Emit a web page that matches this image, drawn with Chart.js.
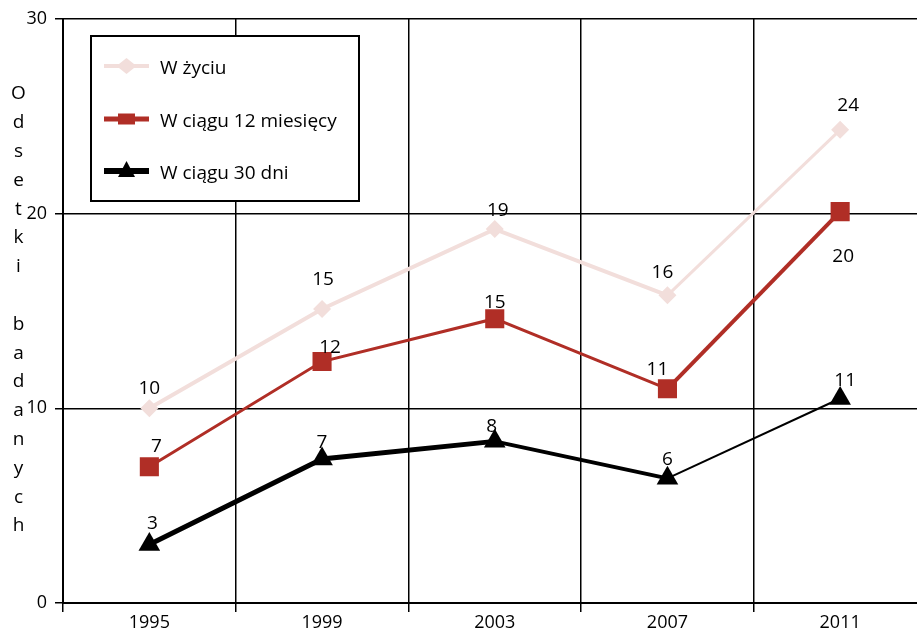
<!DOCTYPE html>
<html>
<head>
<meta charset="utf-8">
<script src="https://cdn.jsdelivr.net/npm/chart.js@4/dist/chart.umd.min.js"></script>
<style>
html,body{margin:0;padding:0;background:#fff;overflow:hidden;}
#wrap{width:917px;height:630px;position:relative;overflow:hidden;}
#c{position:absolute;left:0;top:0;}
</style>
</head>
<body>
<div id="wrap"><canvas id="c" width="940" height="630"></canvas></div>
<script>
// ---- data ----
const years = ['1995', '1999', '2003', '2007', '2011'];
const seriesNames = ['W życiu', 'W ciągu 12 miesięcy', 'W ciągu 30 dni'];
const lifetime = [10.0, 15.1, 19.2, 15.8, 24.3];
const last12Months = [7.0, 12.4, 14.6, 11.0, 20.1];
const last30Days = [3.0, 7.4, 8.3, 6.4, 10.5];
const yTicks = [0, 10, 20, 30];
const yTitle = 'Odsetki badanych';

// ---- styles ----
const FONT = '"Open Sans", "DejaVu Sans", sans-serif';
const colors = ['#f2dedb', '#b02e26', '#000000'];
const segWidths = [[4, 4, 4, 3], [3, 3, 3, 4], [5, 5, 4, 2]];
const labelOffsets = [
  [[0, -20], [1, -29], [3, -19], [-5, -23], [8, -24]],
  [[7, -20], [8, -14], [0, -16], [-10, -19], [3, 45]],
  [[3, -21], [0, -16], [-3, -15], [0, -19], [5, -18]]
];

const datasets = [lifetime, last12Months, last30Days].map((vals, i) => ({
  label: seriesNames[i],
  data: vals,
  borderColor: colors[i],
  backgroundColor: colors[i],
  pointStyle: ['rectRot', 'rect', 'triangle'][i],
  pointRadius: [9, 13.5, 12.5][i],
  pointBorderWidth: 0,
  pointHoverRadius: [9, 13.5, 12.5][i],
  borderWidth: segWidths[i][0],
  segment: { borderWidth: ctx => segWidths[i][ctx.p0DataIndex] },
  tension: 0
}));

const yTitlePlugin = {
  id: 'yTitle',
  afterDraw(chart) {
    const ctx = chart.ctx;
    ctx.save();
    ctx.fillStyle = '#000';
    ctx.font = '19px ' + FONT;
    ctx.textAlign = 'center';
    ctx.textBaseline = 'middle';
    const chars = Array.from(yTitle);
    chars.forEach((ch, k) => { if (ch !== ' ') ctx.fillText(ch, 18.5, 94 + k * 28.8); });
    ctx.restore();
  }
};

const labelPlugin = {
  id: 'dataLabels',
  afterDatasetsDraw(chart) {
    const ctx = chart.ctx;
    ctx.save();
    ctx.fillStyle = '#000';
    ctx.font = '19px ' + FONT;
    ctx.textAlign = 'center';
    ctx.textBaseline = 'middle';
    chart.data.datasets.forEach((ds, i) => {
      const meta = chart.getDatasetMeta(i);
      meta.data.forEach((pt, j) => {
        const off = labelOffsets[i][j];
        ctx.fillText(String(Math.round(ds.data[j])), pt.x + off[0], pt.y + off[1]);
      });
    });
    ctx.restore();
  }
};

const legendPlugin = {
  id: 'boxLegend',
  afterDatasetsDraw(chart) {
    const ctx = chart.ctx;
    ctx.save();
    ctx.fillStyle = '#fff';
    ctx.fillRect(91, 36, 268, 165);
    ctx.strokeStyle = '#000';
    ctx.lineWidth = 2;
    ctx.strokeRect(91, 36, 268, 165);
    const rows = [66, 119, 171];
    const lw = [4, 5, 6];
    chart.data.datasets.forEach((ds, i) => {
      const y = rows[i];
      ctx.strokeStyle = colors[i];
      ctx.lineWidth = lw[i];
      ctx.beginPath();
      ctx.moveTo(104, y); ctx.lineTo(149, y); ctx.stroke();
      ctx.fillStyle = colors[i];
      const cx = 126.5;
      ctx.beginPath();
      if (i === 0) {
        ctx.moveTo(cx, y - 8); ctx.lineTo(cx + 10, y); ctx.lineTo(cx, y + 8); ctx.lineTo(cx - 10, y); ctx.closePath();
      } else if (i === 1) {
        ctx.rect(cx - 8.5, y - 5.5, 17, 11);
      } else {
        ctx.moveTo(cx, y - 10); ctx.lineTo(cx + 8.5, y + 6); ctx.lineTo(cx - 8.5, y + 6); ctx.closePath();
      }
      ctx.fill();
      ctx.fillStyle = '#000';
      ctx.font = '19px ' + FONT;
      ctx.textAlign = 'left';
      ctx.textBaseline = 'middle';
      ctx.fillText(ds.label, 160, y + 3);
    });
    ctx.restore();
  }
};

new Chart(document.getElementById('c'), {
  type: 'line',
  data: { labels: years, datasets },
  options: {
    responsive: false,
    animation: false,
    events: [],
    layout: { padding: { top: 18, right: 0, left: 0, bottom: 0 } },
    plugins: { legend: { display: false }, tooltip: { enabled: false } },
    scales: {
      x: {
        offset: true,
        grid: { offset: true, color: '#000', lineWidth: 1.5, tickLength: 9, tickColor: '#000', tickWidth: 1.5 },
        border: { color: '#000', width: 2 },
        ticks: { color: '#000', font: { family: FONT, size: 18 }, padding: 0, maxRotation: 0 },
        afterFit(s) { s.height = 27; }
      },
      y: {
        min: 0, max: 30,
        afterBuildTicks(s) { s.ticks = yTicks.map(v => ({ value: v })); },
        grid: { color: '#000', lineWidth: 1.5, tickLength: 8, tickColor: '#000', tickWidth: 1.5 },
        border: { color: '#000', width: 2 },
        ticks: { color: '#000', font: { family: FONT, size: 18 }, padding: 8 },
        afterFit(s) { s.width = 63; }
      }
    }
  },
  plugins: [labelPlugin, legendPlugin, yTitlePlugin]
});
</script>
</body>
</html>
